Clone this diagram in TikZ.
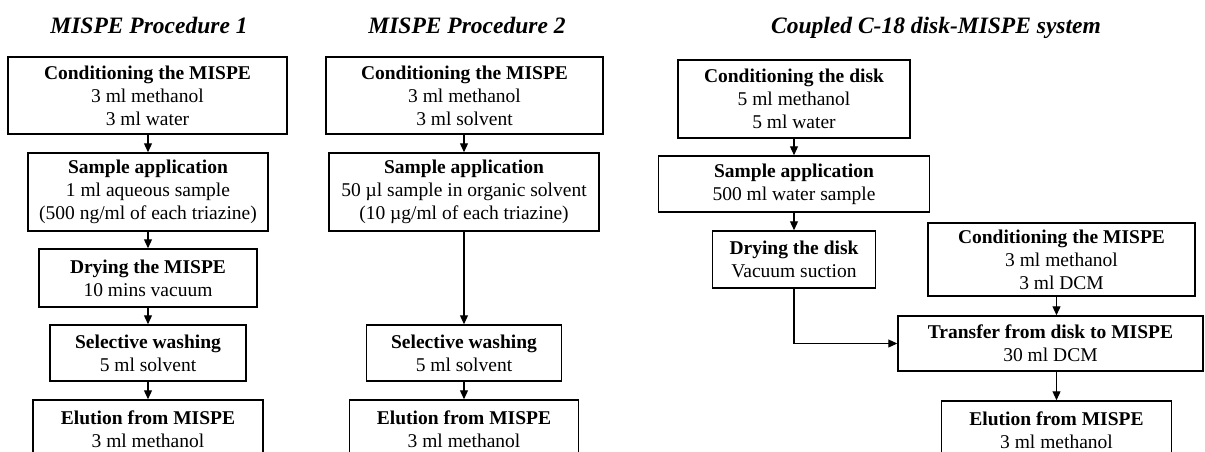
\documentclass[tikz,border=0pt]{standalone}
\usepackage{fontspec}
\setmainfont{Liberation Serif}
\usetikzlibrary{arrows.meta,calc}
\tikzset{
  box/.style={draw, line width=1.5pt, align=center, inner sep=0pt,
    font=\fontsize{19.5}{23}\selectfont},
  ttl/.style={anchor=base, font=\fontsize{23.5}{28}\selectfont\bfseries\itshape},
  arr/.style={line width=1.2pt, -{Triangle[length=9pt,width=8pt]}}
}
\begin{document}
\begin{tikzpicture}[x=1pt,y=-1pt]
\path[use as bounding box, fill=white] (0,0) rectangle (1205,451);
\clip (0,0) rectangle (1205,451);
% titles
\node[ttl] (t1) at (149,33) {MISPE Procedure 1};
\node[ttl] (t2) at (467,33) {MISPE Procedure 2};
\node[ttl] (t3) at (936,33) {Coupled C-18 disk-MISPE system};
% column 1
\node[box, minimum width=279pt, minimum height=77pt] (a1) at (147.5,95.5)
  {\textbf{Conditioning the MISPE}\\3 ml methanol\\3 ml water};
\node[box, minimum width=240pt, minimum height=78pt] (a2) at (148,192)
  {\textbf{Sample application}\\1 ml aqueous sample\\(500 ng/ml of each triazine)};
\node[box, minimum width=218pt, minimum height=58pt] (a3) at (148,278)
  {\textbf{Drying the MISPE}\\10 mins vacuum};
\node[box, minimum width=196pt, minimum height=56pt] (a4) at (148,353)
  {\textbf{Selective washing}\\5 ml solvent};
\node[box, minimum width=230pt, minimum height=58pt] (a5) at (148,429)
  {\textbf{Elution from MISPE}\\3 ml methanol};
\draw[arr] (a1.south -| a2) -- (a2.north);
\draw[arr] (a2) -- (a3) ;
\draw[arr] (a3) -- (a4);
\draw[arr] (a4) -- (a5);
% column 2
\node[box, minimum width=277pt, minimum height=77pt] (b1) at (464.5,95.5)
  {\textbf{Conditioning the MISPE}\\3 ml methanol\\3 ml solvent};
\node[box, minimum width=270pt, minimum height=78pt] (b2) at (464,192)
  {\textbf{Sample application}\\50 µl sample in organic solvent\\(10 µg/ml of each triazine)};
\node[box, minimum width=195pt, minimum height=56pt] (b3) at (464,353)
  {\textbf{Selective washing}\\5 ml solvent};
\node[box, minimum width=229pt, minimum height=58pt] (b4) at (464,429)
  {\textbf{Elution from MISPE}\\3 ml methanol};
\draw[arr] (b1.south -| b2) -- (b2.north);
\draw[arr] (b2) -- (b3);
\draw[arr] (b3) -- (b4);
% column 3
\node[box, minimum width=232pt, minimum height=78pt] (c1) at (794,99)
  {\textbf{Conditioning the disk}\\5 ml methanol\\5 ml water};
\node[box, minimum width=271pt, minimum height=56pt] (c2) at (794,184)
  {\textbf{Sample application}\\500 ml water sample};
\node[box, minimum width=163pt, minimum height=57pt] (c3) at (794,259.5)
  {\textbf{Drying the disk}\\Vacuum suction};
\node[box, minimum width=267pt, minimum height=73pt] (c4) at (1061.5,259.5)
  {\textbf{Conditioning the MISPE}\\3 ml methanol\\3 ml DCM};
\node[box, minimum width=305pt, minimum height=55pt] (c5) at (1050.5,343.5)
  {\textbf{Transfer from disk to MISPE}\\30 ml DCM};
\node[box, minimum width=230pt, minimum height=58pt] (c6) at (1056.5,430)
  {\textbf{Elution from MISPE}\\3 ml methanol};
\draw[arr] (c1) -- (c2);
\draw[arr] (c2) -- (c3);
\draw[arr] (c3.south) |- (c5.west);
\draw[arr] (c4.south -| c6) -- (c5.north -| c6);
\draw[arr] (c5.south -| c6) -- (c6.north);
\end{tikzpicture}
\end{document}
